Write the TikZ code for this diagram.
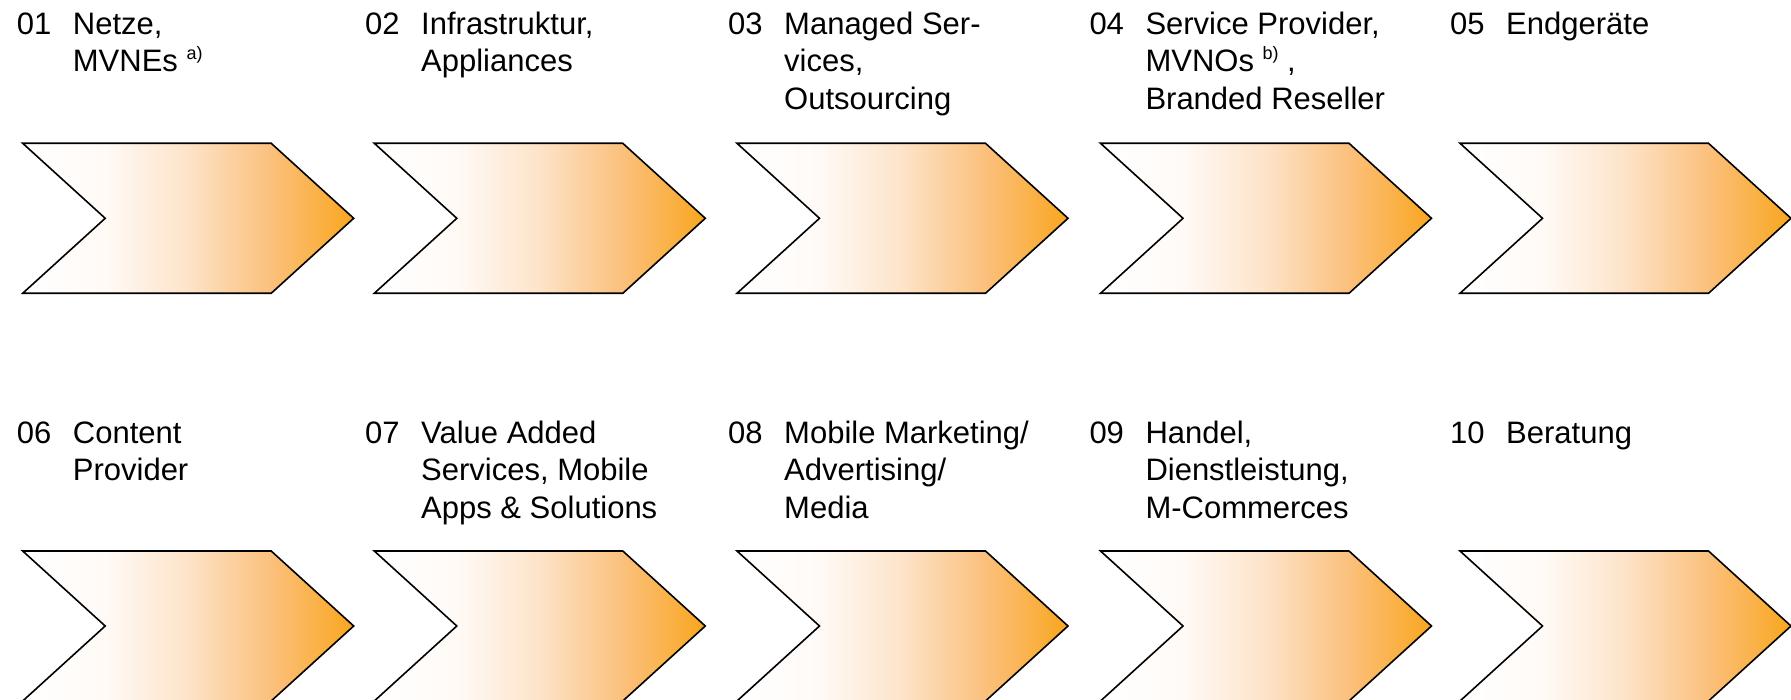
\documentclass[tikz,border=0pt]{standalone}
\usepackage{fontspec}
\setmainfont{Liberation Sans}
\definecolor{gA}{RGB}{255,250,246}
\definecolor{gB}{RGB}{253,227,200}
\definecolor{gC}{RGB}{251,192,124}
\definecolor{gD}{RGB}{249,166,30}
\pgfdeclarehorizontalshading{chevshade}{100bp}{color(0bp)=(white); color(25bp)=(white); color(37.5bp)=(gA); color(50bp)=(gB); color(62.5bp)=(gC); color(75bp)=(gD); color(100bp)=(gD)}
\newcommand\fs{\fontsize{31}{37.5}\selectfont}
\newcommand\supx[1]{\raisebox{12pt}{\fontsize{18}{18}\selectfont #1}}
\newcommand\lines[1]{\begin{tabular}[t]{@{}l@{}}#1\end{tabular}}
\newcommand\chevron[2]{\path[chev] (#1,#2) -- ++(248.5,0) -- ++(82.5,75) -- ++(-82.5,75) -- ++(-248.5,0) -- ++(82.5,-75) -- cycle;}
\begin{document}
\begin{tikzpicture}[x=1pt,y=-1pt,
  chev/.style={draw=black, line width=1.6pt, line join=miter, shading=chevshade},
  num/.style={anchor=base west, inner sep=0pt, font=\fs},
  lbl/.style={anchor=base west, inner sep=0pt, font=\fs}]
\useasboundingbox (0,0) rectangle (1791,700);
% row 1 chevrons
\chevron{22.7}{143.3}
\chevron{374.3}{143.3}
\chevron{737}{143.3}
\chevron{1100.5}{143.3}
\chevron{1460}{143.3}
% row 2 chevrons
\chevron{22.7}{551}
\chevron{374.3}{551}
\chevron{737}{551}
\chevron{1100.5}{551}
\chevron{1460}{551}
% row 1 labels
\node[num] (n01) at (16.7,34.5) {01};
\node[lbl] (t01) at (72.7,34.5) {\lines{Netze,\\MVNEs \supx{a)}}};
\node[num] (n02) at (365,34.5) {02};
\node[lbl] (t02) at (421,34.5) {\lines{Infrastruktur,\\Appliances}};
\node[num] (n03) at (728,34.5) {03};
\node[lbl] (t03) at (784,34.5) {\lines{Managed Ser-\\vices,\\Outsourcing}};
\node[num] (n04) at (1089.3,34.5) {04};
\node[lbl] (t04) at (1145.3,34.5) {\lines{Service Provider,\\MVNOs \supx{b)} ,\\Branded Reseller}};
\node[num] (n05) at (1450,34.5) {05};
\node[lbl] (t05) at (1506,34.5) {Endgeräte};
% row 2 labels
\node[num] (n06) at (16.7,443) {06};
\node[lbl] (t06) at (72.7,443) {\lines{Content\\Provider}};
\node[num] (n07) at (365,443) {07};
\node[lbl] (t07) at (421,443) {\lines{Value Added\\Services, Mobile\\Apps \& Solutions}};
\node[num] (n08) at (728,443) {08};
\node[lbl] (t08) at (784,443) {\lines{Mobile Marketing/\\Advertising/\\Media}};
\node[num] (n09) at (1089.3,443) {09};
\node[lbl] (t09) at (1145.3,443) {\lines{Handel,\\Dienstleistung,\\M-Commerces}};
\node[num] (n10) at (1450,443) {10};
\node[lbl] (t10) at (1506,443) {Beratung};
\end{tikzpicture}
\end{document}
